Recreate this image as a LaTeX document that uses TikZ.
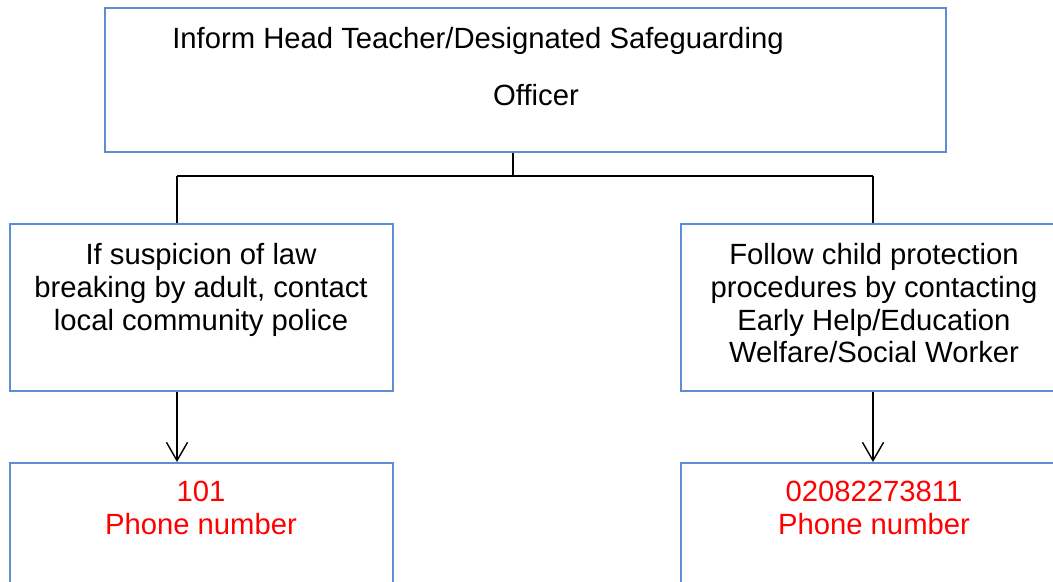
\documentclass[tikz,border=0pt]{standalone}
\usepackage{fontspec}
\setmainfont{Liberation Sans}
\usepackage{xcolor}
\usetikzlibrary{arrows.meta}
\definecolor{boxblue}{HTML}{5B8ED6}
\definecolor{phonered}{HTML}{FF0000}

\begin{document}
\begin{tikzpicture}[x=0.025cm, y=-0.025cm, >={Straight Barb[length=13pt,width=15pt]},
    safebox/.style={draw=boxblue, line width=1.4pt, inner sep=0pt, rectangle},
    boxtext/.style={inner sep=0pt, align=center, font=\fontsize{20.8}{23.3}\selectfont},
    link/.style={draw=black, line width=1pt}]
    % Page area
    \useasboundingbox (0,0) rectangle (1053,581);
    \clip (0,0) rectangle (1053,581);

    % Boxes
    \node[safebox, minimum width=21.025cm, minimum height=3.6cm] (inform) at (525.5,80) {};
    \node[safebox, minimum width=9.575cm, minimum height=4.175cm] (police) at (201.5,307.5) {};
    \node[safebox, minimum width=9.65cm, minimum height=4.175cm] (protect) at (874,307.5) {};
    \node[safebox, minimum width=9.575cm, minimum height=3.5cm] (policephone) at (201.5,533) {};
    \node[safebox, minimum width=9.65cm, minimum height=3.5cm] (protectphone) at (874,533) {};

    % Texts
    \node[boxtext, anchor=north west] (informtop) at (172,27) {Inform Head Teacher/Designated Safeguarding};
    \node[boxtext, anchor=north] (informbottom) at (536,84) {Officer};
    \node[boxtext, anchor=north] (policetext) at (201,243) {If suspicion of law\\breaking by adult, contact\\local community police};
    \node[boxtext, anchor=north] (protecttext) at (874,243) {Follow child protection\\procedures by contacting\\Early Help/Education\\Welfare/Social Worker};
    \node[boxtext, anchor=north, text=phonered] (policenum) at (201,481) {101\\Phone number};
    \node[boxtext, anchor=north, text=phonered] (protectnum) at (874,481) {02082273811\\Phone number};

    % Connectors
    \coordinate (fork) at (513,176);
    \coordinate (policedrop) at (177,176);
    \coordinate (protectdrop) at (873,176);
    \draw[link] (inform.south -| fork) -- (fork);
    \draw[link] (policedrop) -- (protectdrop);
    \draw[link] (policedrop) -- (policedrop |- police.north);
    \draw[link] (protectdrop) -- (protectdrop |- protect.north);
    \draw[link, ->] (police.south -| policedrop) -- (policephone.north -| policedrop);
    \draw[link, ->] (protect.south -| protectdrop) -- (protectphone.north -| protectdrop);
\end{tikzpicture}
\end{document}
